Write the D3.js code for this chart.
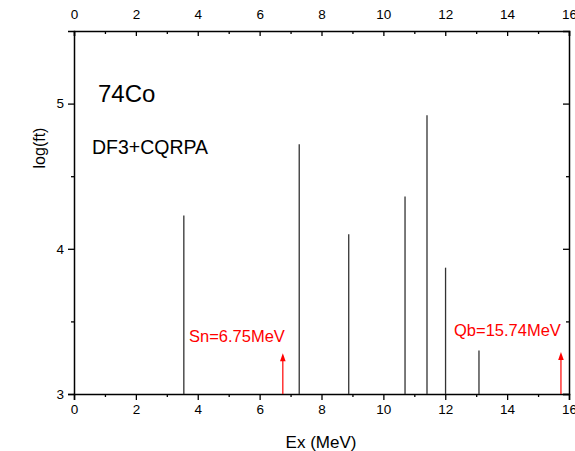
<!DOCTYPE html>
<html>
<head>
<meta charset="utf-8">
<script src="https://cdn.jsdelivr.net/npm/d3@7"></script>
<style>
  html, body { margin: 0; padding: 0; background: #fff; }
  svg { display: block; font-family: "Liberation Sans", Arial, sans-serif; }
</style>
</head>
<body>
<svg id="chart" width="575" height="451"></svg>
<script>
// Excitation energies (MeV) and log(ft) values of the calculated states
const energies = [3.55, 7.28, 8.88, 10.70, 11.41, 12.01, 13.09];
const logft    = [4.23, 4.72, 4.10, 4.36, 4.92, 3.87, 3.30];

// Threshold markers: neutron separation energy and beta-decay Q value
const markerNames  = ["Sn", "Qb"];
const markerValues = [6.75, 15.74];
const markerTops   = [3.28, 3.29];

const xTicks = [0, 2, 4, 6, 8, 10, 12, 14, 16];
const yTicks = [3, 4, 5];

const svg = d3.select("#chart");
const margin = { left: 74, right: 6, top: 31, bottom: 57 };
const W = 575, H = 451;

const x = d3.scaleLinear().domain([0, 16]).range([margin.left, W - margin.right]);
const y = d3.scaleLinear().domain([3, 5.5]).range([H - margin.bottom, margin.top]);

const fontTick = 13.5;

// Axes: bottom and left tick outward, top and right tick inward
function styleAxis(g) {
  g.select(".domain").attr("stroke", "#000").attr("stroke-width", 1.5);
  g.selectAll(".tick line").attr("stroke", "#000").attr("stroke-width", 1.3);
  g.selectAll("text").attr("font-size", fontTick).attr("fill", "#000")
    .attr("font-family", "Liberation Sans, Arial, sans-serif");
}

const xMinor = d3.range(1, 16, 2);
const yMinor = [3.5, 4.5];

// bottom
const gB = svg.append("g").attr("transform", `translate(0,${y(3)})`)
  .call(d3.axisBottom(x).tickValues(xTicks).tickFormat(d3.format("d")).tickSize(6).tickPadding(4))
  .call(styleAxis);
svg.append("g").attr("transform", `translate(0,${y(3)})`)
  .call(d3.axisBottom(x).tickValues(xMinor).tickFormat("").tickSize(3))
  .call(styleAxis).select(".domain").remove();

// top
const gT = svg.append("g").attr("transform", `translate(0,${y(5.5)})`)
  .call(d3.axisTop(x).tickValues(xTicks).tickFormat(d3.format("d")).tickSize(-5).tickPadding(12))
  .call(styleAxis);
svg.append("g").attr("transform", `translate(0,${y(5.5)})`)
  .call(d3.axisTop(x).tickValues(xMinor).tickFormat("").tickSize(-3))
  .call(styleAxis).select(".domain").remove();

// left
svg.append("g").attr("transform", `translate(${x(0)},0)`)
  .call(d3.axisLeft(y).tickValues(yTicks).tickFormat(d3.format("d")).tickSize(6).tickPadding(4))
  .call(styleAxis);
svg.append("g").attr("transform", `translate(${x(0)},0)`)
  .call(d3.axisLeft(y).tickValues(yMinor).tickFormat("").tickSize(3))
  .call(styleAxis).select(".domain").remove();

// right
svg.append("g").attr("transform", `translate(${x(16)},0)`)
  .call(d3.axisRight(y).tickValues(yTicks).tickFormat("").tickSize(-6))
  .call(styleAxis);
svg.append("g").attr("transform", `translate(${x(16)},0)`)
  .call(d3.axisRight(y).tickValues(yMinor).tickFormat("").tickSize(-3))
  .call(styleAxis).select(".domain").remove();

// state lines
svg.append("g").selectAll("line.state")
  .data(energies.map((e, i) => ({ e, v: logft[i] })))
  .join("line")
  .attr("class", "state")
  .attr("x1", d => x(d.e)).attr("x2", d => x(d.e))
  .attr("y1", y(3)).attr("y2", d => y(d.v))
  .attr("stroke", "#333").attr("stroke-width", 1.3);

// threshold arrows
const markers = markerNames.map((n, i) => ({ n, e: markerValues[i], top: markerTops[i] }));
const gm = svg.append("g");
markers.forEach(m => {
  const px = x(m.e), py = y(m.top);
  gm.append("line")
    .attr("x1", px).attr("x2", px)
    .attr("y1", y(3)).attr("y2", py + 6)
    .attr("stroke", "#ff0000").attr("stroke-width", 1.2);
  gm.append("path")
    .attr("d", `M${px},${py} L${px - 2.8},${py + 8} L${px + 2.8},${py + 8} Z`)
    .attr("fill", "#ff0000");
});

// threshold labels
svg.append("text").attr("x", 189).attr("y", 341.5)
  .attr("font-size", 16.5).attr("fill", "#ff0000")
  .text(`Sn=${markerValues[0].toFixed(2)}MeV`);
svg.append("text").attr("x", 454).attr("y", 336)
  .attr("font-size", 16.5).attr("fill", "#ff0000")
  .text(`Qb=${markerValues[1].toFixed(2)}MeV`);

// nucleus and model labels
svg.append("text").attr("x", 98).attr("y", 101.5)
  .attr("font-size", 24).attr("fill", "#000").text("74Co");
svg.append("text").attr("x", 92).attr("y", 154.3)
  .attr("font-size", 19.5).attr("fill", "#000").text("DF3+CQRPA");

// axis titles
svg.append("text").attr("x", 321).attr("y", 447.5)
  .attr("text-anchor", "middle").attr("font-size", 17).attr("fill", "#000")
  .text("Ex (MeV)");
svg.append("text")
  .attr("transform", "translate(44.5,148) rotate(-90)")
  .attr("text-anchor", "middle").attr("font-size", 16).attr("fill", "#000")
  .text("log(ft)");
</script>
</body>
</html>
